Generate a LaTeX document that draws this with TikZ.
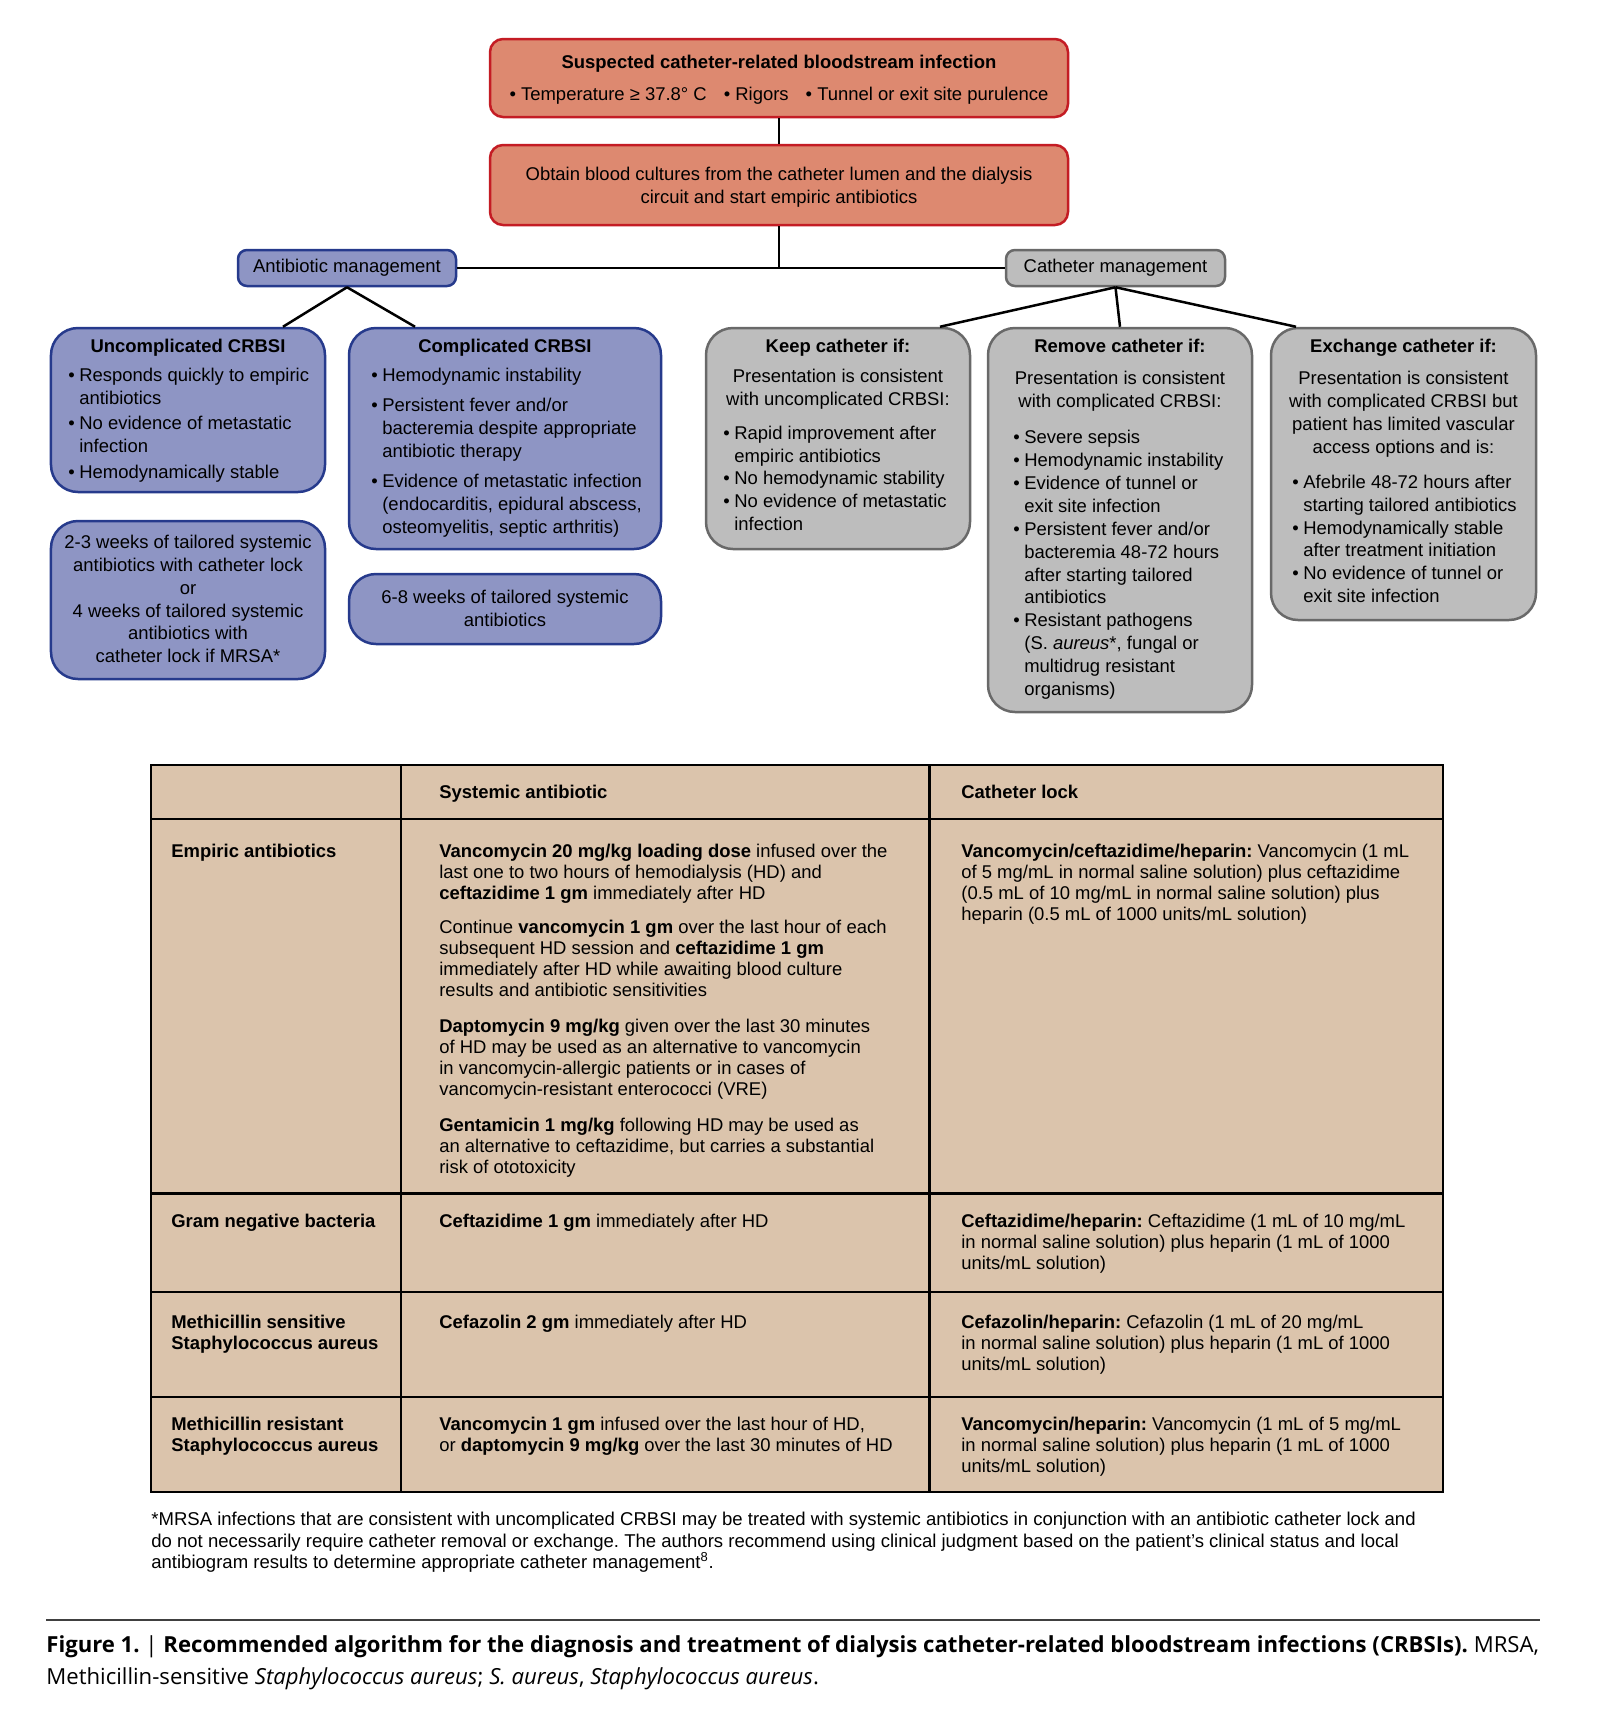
\documentclass[tikz,border=0pt]{standalone}
\usepackage{fontspec}
\setmainfont{Liberation Sans}
\newfontfamily\capfont{Open Sans}
\frenchspacing
\usetikzlibrary{positioning,calc}
\definecolor{rFill}{RGB}{221,137,112}
\definecolor{rLine}{RGB}{196,28,36}
\definecolor{bFill}{RGB}{142,149,196}
\definecolor{bLine}{RGB}{38,58,140}
\definecolor{gFill}{RGB}{189,189,189}
\definecolor{gLine}{RGB}{105,105,105}
\definecolor{tFill}{RGB}{219,196,172}
\newcommand{\boxfont}{\fontsize{10.5}{13.04}\selectfont}
\newcommand{\tabfont}{\fontsize{10.5}{11.9}\selectfont}
\newcommand{\bul}{\makebox[2.2mm][l]{\textbullet}}
\newcommand{\ind}{\hspace*{2.2mm}}
\tikzset{
  redbox/.style={rectangle, rounded corners=2.6mm, draw=rLine, fill=rFill,
                 line width=0.5mm, inner sep=0pt},
  bluebox/.style={rectangle, rounded corners=5.4mm, draw=bLine, fill=bFill,
                  line width=0.5mm, inner sep=0pt},
  greybox/.style={rectangle, rounded corners=5.4mm, draw=gLine, fill=gFill,
                  line width=0.5mm, inner sep=0pt},
  tag/.style={rounded corners=1.8mm, font=\boxfont},
  hd/.style={font=\boxfont\bfseries, anchor=north, inner sep=0pt},
  ctr/.style={font=\boxfont, align=center, anchor=north, inner sep=0pt},
  bl/.style={font=\boxfont, align=left, anchor=north west, inner sep=0pt},
  cell/.style={font=\tabfont, align=left, anchor=north west, inner sep=0pt},
  cellhd/.style={cell, font=\tabfont\bfseries},
  conn/.style={draw=black, line width=0.5mm},
  tabrule/.style={draw=black, line width=0.55mm},
}
\begin{document}
\begin{tikzpicture}[x=0.2mm, y=-0.2mm]
  \useasboundingbox[fill=white] (0,0) rectangle (1616,1712);

  % --- entry boxes (top) ---
  \node[redbox, minimum width=115.6mm, minimum height=15.6mm] (sus) at (779,78){};
  \node[hd] (sus-t) at (779,55){Suspected catheter-related bloodstream infection};
  \node[ctr] (sus-b) at (779,87){\textbullet\ Temperature ≥ 37.8° C\hspace{3.4mm}\textbullet\ Rigors\hspace{3.4mm}\textbullet\ Tunnel or exit site purulence};
  \node[redbox, minimum width=115.6mm, minimum height=16mm] (obt) at (779,185){};
  \node[ctr] (obt-t) at (779,167){Obtain blood cultures from the catheter lumen and the dialysis\\circuit and start empiric antibiotics};

  % --- management headers ---
  \node[bluebox, tag, minimum width=43.6mm, minimum height=7.2mm] (abx) at (347,268){Antibiotic management};
  \node[greybox, tag, minimum width=43.8mm, minimum height=7.2mm] (cath) at (1115.5,268){Catheter management};

  % --- antibiotic branch ---
  \node[bluebox, minimum width=54.8mm, minimum height=32.8mm] (unc) at (188,410){};
  \node[hd] (unc-t) at (188,339){Uncomplicated CRBSI};
  \node[bl] (unc-b) at (68,367.5){\bul Responds quickly to empiric\\\ind antibiotics\\[0.5mm]\bul No evidence of metastatic\\\ind infection\\[0.6mm]\bul Hemodynamically stable};
  \node[bluebox, minimum width=62.4mm, minimum height=44.2mm] (comp) at (505,438.5){};
  \node[hd] (comp-t) at (505,339){Complicated CRBSI};
  \node[bl] (comp-b) at (371,367.5){\bul Hemodynamic instability\\[1.5mm]\bul Persistent fever and/or\\\ind bacteremia despite appropriate\\\ind antibiotic therapy\\[1.5mm]\bul Evidence of metastatic infection\\\ind (endocarditis, epidural abscess,\\\ind osteomyelitis, septic arthritis)};
  \node[bluebox, minimum width=54.8mm, minimum height=31.6mm] (unctx) at (188,600){};
  \node[ctr] (unctx-t) at (188,534.6){2-3 weeks of tailored systemic\\antibiotics with catheter lock\\or\\4 weeks of tailored systemic\\antibiotics with\\catheter lock if MRSA*};
  \node[bluebox, minimum width=62.4mm, minimum height=14mm] (comptx) at (505,609){};
  \node[ctr] (comptx-t) at (505,590){6-8 weeks of tailored systemic\\antibiotics};

  % --- catheter branch ---
  \node[greybox, minimum width=52.8mm, minimum height=44.2mm] (keep) at (838,438.5){};
  \node[hd] (keep-t) at (838,339){Keep catheter if:};
  \node[ctr] (keep-c) at (838,368.6){Presentation is consistent\\with uncomplicated CRBSI:};
  \node[bl] (keep-b) at (723,425.4){\bul Rapid improvement after\\\ind empiric antibiotics\\\bul No hemodynamic stability\\\bul No evidence of metastatic\\\ind infection};
  \node[greybox, minimum width=52.8mm, minimum height=76.8mm] (rem) at (1120,520){};
  \node[hd] (rem-t) at (1120,339){Remove catheter if:};
  \node[ctr] (rem-c) at (1120,370.8){Presentation is consistent\\with complicated CRBSI:};
  \node[bl] (rem-b) at (1013,429.8){\bul Severe sepsis\\\bul Hemodynamic instability\\\bul Evidence of tunnel or\\\ind exit site infection\\\bul Persistent fever and/or\\\ind bacteremia 48-72 hours\\\ind after starting tailored\\\ind antibiotics\\\bul Resistant pathogens\\\ind (S. \textit{aureus}*, fungal or\\\ind multidrug resistant\\\ind organisms)};
  \node[greybox, minimum width=53mm, minimum height=58.4mm] (exch) at (1403.5,474){};
  \node[hd] (exch-t) at (1403.5,339){Exchange catheter if:};
  \node[ctr] (exch-c) at (1403.5,370.8){Presentation is consistent\\with complicated CRBSI but\\patient has limited vascular\\access options and is:};
  \node[bl] (exch-b) at (1292,474.5){\bul Afebrile 48-72 hours after\\\ind starting tailored antibiotics\\\bul Hemodynamically stable\\\ind after treatment initiation\\\bul No evidence of tunnel or\\\ind exit site infection};

  % --- connectors ---
  \coordinate (jn) at (obt.south |- abx.east);
  \draw[conn] (sus.south) -- (obt.north);
  \draw[conn] (obt.south) -- (jn);
  \draw[conn] (abx.east) -- (cath.west);
  \draw[conn] (abx.south) -- ([xshift=19mm]unc.north);
  \draw[conn] (abx.south) -- ([xshift=-18mm]comp.north);
  \draw[conn] (cath.south) -- ([xshift=20.4mm]keep.north);
  \draw[conn] (cath.south) -- (rem.north);
  \draw[conn] (cath.south) -- ([xshift=-21.5mm]exch.north);

  % --- dosing table ---
  \fill[tFill] (151,765) rectangle (1443,1492);
  \draw[tabrule] (151,765) rectangle (1443,1492);
  \foreach \ry in {819,1193.5,1292,1397}
    \draw[tabrule] (151,\ry) -- (1443,\ry);
  \foreach \cx in {401,929.5}
    \draw[tabrule] (\cx,765) -- (\cx,1492);

  \node[cellhd] (h-sys) at (439,785){Systemic antibiotic};
  \node[cellhd] (h-lock) at (961,785){Catheter lock};

  \node[cellhd] (emp) at (171,844){Empiric antibiotics};
  \node[cell] (emp-sys) at (439,844){\textbf{Vancomycin 20 mg/kg loading dose} infused over the\\last one to two hours of hemodialysis (HD) and\\\textbf{ceftazidime 1 gm} immediately after HD\\[2.7mm]Continue \textbf{vancomycin 1 gm} over the last hour of each\\subsequent HD session and \textbf{ceftazidime 1 gm}\\immediately after HD while awaiting blood culture\\results and antibiotic sensitivities\\[3mm]\textbf{Daptomycin 9 mg/kg} given over the last 30 minutes\\of HD may be used as an alternative to vancomycin\\in vancomycin-allergic patients or in cases of\\vancomycin-resistant enterococci (VRE)\\[3mm]\textbf{Gentamicin 1 mg/kg} following HD may be used as\\an alternative to ceftazidime, but carries a substantial\\risk of ototoxicity};
  \node[cell] (emp-lock) at (961,844){\textbf{Vancomycin/ceftazidime/heparin:} Vancomycin (1 mL\\of 5 mg/mL in normal saline solution) plus ceftazidime\\(0.5 mL of 10 mg/mL in normal saline solution) plus\\heparin (0.5 mL of 1000 units/mL solution)};

  \node[cellhd] (gn) at (171,1214){Gram negative bacteria};
  \node[cell] (gn-sys) at (439,1214){\textbf{Ceftazidime 1 gm} immediately after HD};
  \node[cell] (gn-lock) at (961,1214){\textbf{Ceftazidime/heparin:} Ceftazidime (1 mL of 10 mg/mL\\in normal saline solution) plus heparin (1 mL of 1000\\units/mL solution)};

  \node[cellhd] (mssa) at (171,1315){Methicillin sensitive\\Staphylococcus aureus};
  \node[cell] (mssa-sys) at (439,1315){\textbf{Cefazolin 2 gm} immediately after HD};
  \node[cell] (mssa-lock) at (961,1315){\textbf{Cefazolin/heparin:} Cefazolin (1 mL of 20 mg/mL\\in normal saline solution) plus heparin (1 mL of 1000\\units/mL solution)};

  \node[cellhd] (mrsa) at (171,1417){Methicillin resistant\\Staphylococcus aureus};
  \node[cell] (mrsa-sys) at (439,1417){\textbf{Vancomycin 1 gm} infused over the last hour of HD,\\or \textbf{daptomycin 9 mg/kg} over the last 30 minutes of HD};
  \node[cell] (mrsa-lock) at (961,1417){\textbf{Vancomycin/heparin:} Vancomycin (1 mL of 5 mg/mL\\in normal saline solution) plus heparin (1 mL of 1000\\units/mL solution)};

  % --- footnote and caption ---
  \node[cell, font=\fontsize{10.55}{12.1}\selectfont] (fn) at (151,1512){*MRSA infections that are consistent with uncomplicated CRBSI may be treated with systemic antibiotics in conjunction with an antibiotic catheter lock and\\do not necessarily require catheter removal or exchange. The authors recommend using clinical judgment based on the patient’s clinical status and local\\antibiogram results to determine appropriate catheter management\textsuperscript{8}.};
  \draw[line width=0.55mm, black!75] (46,1620) -- (1540,1620);
  \node[cell, font=\capfont\fontsize{12.6}{18.1}\selectfont] (cap) at (46,1635){\textbf{Figure 1.} | \textbf{Recommended algorithm for the diagnosis and treatment of dialysis catheter-related bloodstream infections (CRBSIs).} MRSA,\\Methicillin-sensitive \textit{Staphylococcus aureus}; \textit{S. aureus}, \textit{Staphylococcus aureus}.};
\end{tikzpicture}
\end{document}
